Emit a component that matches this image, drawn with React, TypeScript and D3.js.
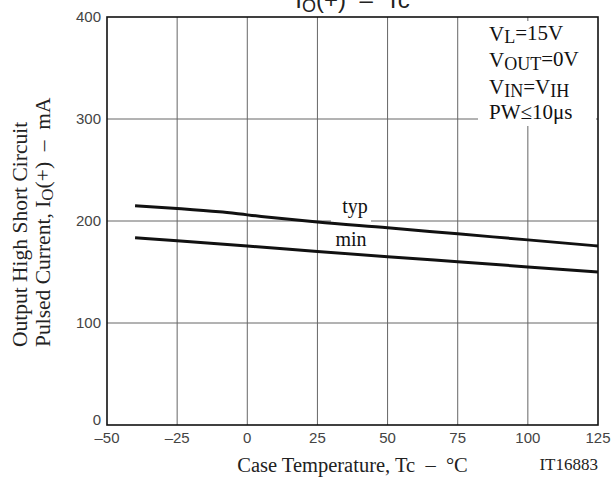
import React from "react";
import * as d3 from "d3";

const xTicks = [-50, -25, 0, 25, 50, 75, 100, 125];
const xTickLabels = ["–50", "–25", "0", "25", "50", "75", "100", "125"];
const yTicks = [0, 100, 200, 300, 400];
const yTickLabels = ["0", "100", "200", "300", "400"];

const typTemp = [-40, -25, -10, 0, 5, 25, 50, 75, 100, 125];
const typVal = [215, 212.3, 209, 206, 204.5, 199, 193.4, 187.4, 181.5, 175.5];
const minTemp = [-40, -25, 0, 25, 50, 75, 100, 125];
const minVal = [183.5, 180.6, 175.5, 170.2, 165, 160, 155, 150];

const W = 613;
const H = 478;
const L = 107, R = 598, T = 17, B = 425;

const serif = "'Liberation Serif', 'DejaVu Serif', serif";
const sans = "'Liberation Sans', Arial, sans-serif";
const pre: React.CSSProperties = { whiteSpace: "pre" };

export default function App() {
  const x = d3.scaleLinear().domain([-50, 125]).range([L, R]);
  const y = d3.scaleLinear().domain([0, 400]).range([B, T]);
  const line = d3
    .line<[number, number]>()
    .x((d) => x(d[0]))
    .y((d) => y(d[1]))
    .curve(d3.curveMonotoneX);
  const typPts: [number, number][] = typTemp.map((t, i) => [t, typVal[i]]);
  const minPts: [number, number][] = minTemp.map((t, i) => [t, minVal[i]]);

  return (
    <svg
      width={W}
      height={H}
      viewBox={`0 0 ${W} ${H}`}
      style={{ position: "fixed", left: 0, top: 0, background: "#fff" }}
    >
      <rect x={0} y={0} width={W} height={H} fill="#fff" />
      {/* title, cut off at top */}
      <text x={(L + R) / 2} y={8} textAnchor="middle" fontFamily={sans} fontSize={24} fill="#222" style={pre} xmlSpace="preserve">
        <tspan>I</tspan>
        <tspan fontSize={18} dy={4}>O</tspan>
        <tspan dy={-4}>{"(+)  –  Tc"}</tspan>
      </text>
      {/* grid */}
      {xTicks.slice(1, -1).map((t) => (
        <line key={"gx" + t} x1={x(t)} x2={x(t)} y1={T} y2={B} stroke="#666" strokeWidth={1} />
      ))}
      {yTicks.slice(1, -1).map((t) => (
        <line key={"gy" + t} x1={L} x2={R} y1={y(t)} y2={y(t)} stroke="#666" strokeWidth={1} />
      ))}
      {/* condition box background */}
      <rect x={478} y={21} width={118} height={105} fill="#fff" />
      <g fontFamily={serif} fontSize={21} fill="#111">
        <text x={489} y={41}>
          <tspan>V</tspan>
          <tspan fontSize={18} dy={2}>L</tspan>
          <tspan dy={-3}>=15V</tspan>
        </text>
        <text x={489} y={67}>
          <tspan>V</tspan>
          <tspan fontSize={18} dy={3}>OUT</tspan>
          <tspan dy={-4}>=0V</tspan>
        </text>
        <text x={489} y={94}>
          <tspan>V</tspan>
          <tspan fontSize={18} dy={3}>IN</tspan>
          <tspan dy={-3}>=V</tspan>
          <tspan fontSize={18} dy={3}>IH</tspan>
        </text>
        <text x={489} y={119}>PW≤10μs</text>
      </g>
      {/* typ label background */}
      <rect x={331} y={198} width={40} height={24} fill="#fff" />
      {/* curves */}
      <path d={line(typPts) || ""} fill="none" stroke="#111" strokeWidth={3} />
      <path d={line(minPts) || ""} fill="none" stroke="#111" strokeWidth={3} />
      <text x={355} y={213} textAnchor="middle" fontFamily={serif} fontSize={20} fill="#111">typ</text>
      <text x={351} y={246} textAnchor="middle" fontFamily={serif} fontSize={20} fill="#111">min</text>
      {/* frame */}
      <rect x={L} y={T} width={R - L} height={B - T} fill="none" stroke="#111" strokeWidth={1.6} />
      {/* tick labels */}
      {yTicks.map((t, i) => (
        <text key={"yl" + t} x={101} y={t === 0 ? y(t) : y(t) + 5} textAnchor="end" fontFamily={sans} fontSize={15} fill="#444">
          {yTickLabels[i]}
        </text>
      ))}
      {xTicks.map((t, i) => (
        <text key={"xl" + t} x={x(t)} y={443} textAnchor="middle" fontFamily={sans} fontSize={15} fill="#444">
          {xTickLabels[i]}
        </text>
      ))}
      {/* axis titles */}
      <text x={(L + R) / 2} y={472} textAnchor="middle" fontFamily={serif} fontSize={20.5} fill="#222" style={pre} xmlSpace="preserve">
        {"Case Temperature, Tc  –  °C"}
      </text>
      <text x={598} y={470} textAnchor="end" fontFamily={serif} fontSize={17} fill="#222">IT16883</text>
      <g transform="translate(27,347) rotate(-90)">
        <text x={0} y={0} textAnchor="start" fontFamily={serif} fontSize={21.5} fill="#222">
          Output High Short Circuit
        </text>
      </g>
      <g transform="translate(50,347) rotate(-90)">
        <text x={0} y={0} textAnchor="start" fontFamily={serif} fontSize={21.5} fill="#222" style={pre} xmlSpace="preserve">
          <tspan>Pulsed Current, I</tspan>
          <tspan fontSize={17} dy={3}>O</tspan>
          <tspan dy={-3}>{"(+)  –  mA"}</tspan>
        </text>
      </g>
    </svg>
  );
}
